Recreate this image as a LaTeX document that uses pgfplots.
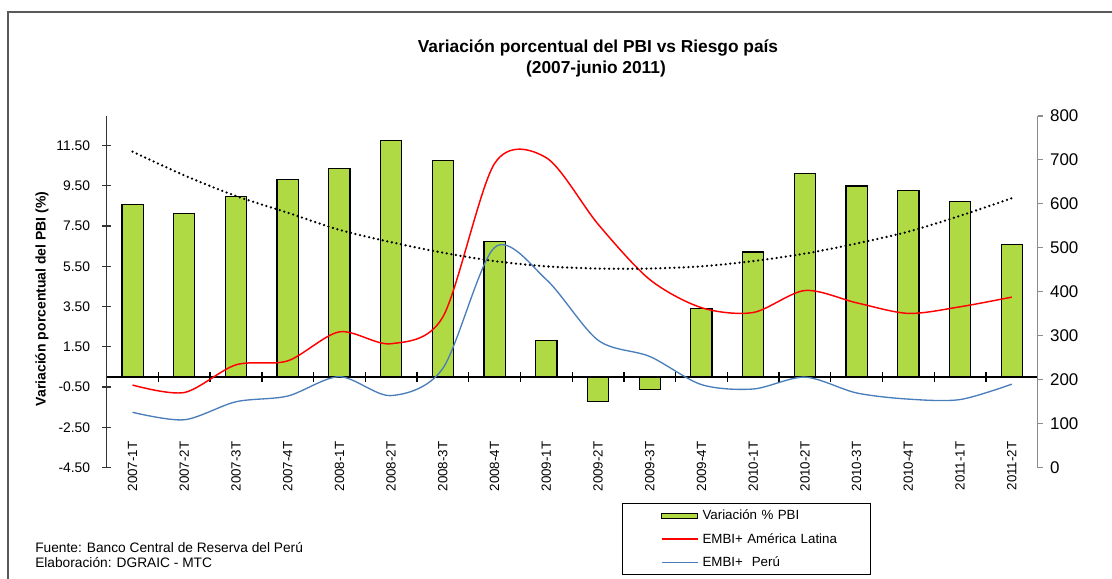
\documentclass[border=0pt]{standalone}
\usepackage{fontspec}
\setmainfont{Liberation Sans}
\usepackage{pgfplots}
\pgfplotsset{compat=1.18}
\definecolor{barg}{HTML}{B0DA44}
\definecolor{embilat}{HTML}{FF0000}
\definecolor{embipe}{HTML}{4A7EBB}
\definecolor{framec}{HTML}{595959}

\begin{document}
\begin{tikzpicture}
\path[use as bounding box] (0,0) rectangle (834pt,433.5pt);
\draw[framec, line width=1.5pt] (6pt,-2pt) -- (6pt,424.5pt) -- (836pt,424.5pt);

% title
\node[anchor=base, font=\bfseries\fontsize{13}{15}\selectfont] at (448.5pt,393.9pt) {Variación porcentual del PBI vs Riesgo país};
\node[anchor=base, font=\bfseries\fontsize{13}{15}\selectfont] at (447pt,378pt) {(2007-junio 2011)};

% left axis: GDP growth bars
\begin{axis}[
  at={(80pt,82.73pt)}, anchor=south west,
  scale only axis, width=698.25pt, height=263.78pt,
  xmin=-0.5, xmax=17.5, ymin=-4.5, ymax=12.96,
  axis x line=middle, axis y line=left,
  axis line style={-},
  x axis line style={line width=1.9pt},
  y axis line style={black!80, line width=1pt},
  axis on top,
  hide obscured x ticks=false,
  tick align=center,
  xtick={0,...,17},
  xticklabels={2007-1T,2007-2T,2007-3T,2007-4T,2008-1T,2008-2T,2008-3T,2008-4T,2009-1T,2009-2T,2009-3T,2009-4T,2010-1T,2010-2T,2010-3T,2010-4T,2011-1T,2011-2T},
  minor xtick={0.5,1.5,...,16.5},
  major x tick style={draw=none},
  minor x tick style={black, line width=1pt},
  minor tick length=7pt,
  major tick length=6.75pt,
  xticklabel style={yshift=-41.5pt, rotate=90, anchor=east, font=\fontsize{10}{12}\selectfont},
  ytick={-4.5,-2.5,...,11.5},
  y tick style={black!80, line width=1pt},
  /pgf/number format/assume math mode=true,
  yticklabel style={/pgf/number format/fixed, /pgf/number format/fixed zerofill, /pgf/number format/precision=2, font=\fontsize{10.4}{12}\selectfont, xshift=-5.5pt},
  ylabel={Variación porcentual del PBI (\%)},
  ylabel style={at={(axis description cs:-0.0695,0.48)}, anchor=center, font=\bfseries\fontsize{10.5}{12}\selectfont},
]
\addplot[ybar, bar width=0.41, fill=barg, draw=black, line width=0.9pt] coordinates {
  (0,8.56) (1,8.11) (2,8.97) (3,9.81) (4,10.34) (5,11.73) (6,10.74) (7,6.73) (8,1.82)
  (9,-1.21) (10,-0.61) (11,3.39) (12,6.21) (13,10.09) (14,9.48) (15,9.25) (16,8.72) (17,6.59)
};
\end{axis}

% right axis: EMBI spreads
\begin{axis}[
  at={(80pt,82.73pt)}, anchor=south west,
  scale only axis, width=698.25pt, height=263.78pt,
  xmin=-0.5, xmax=17.5, ymin=0, ymax=800,
  axis x line=none, axis y line=right,
  axis line style={-},
  y axis line style={black!45, line width=1pt},
  tick align=outside,
  major tick length=4.3pt,
  ytick={0,100,...,800},
  y tick style={black!45, line width=0.8pt},
  /pgf/number format/assume math mode=true,
  yticklabel style={font=\fontsize{12.7}{14}\selectfont, xshift=1.5pt},
  legend image code/.code={\draw[#1] (0pt,0pt) -- (27pt,0pt); \path (-10pt,0pt);},
  legend cell align=left,
  legend style={at={(axis description cs:0.5532,-0.1004)}, anchor=north west,
    draw=black, line width=1pt, inner xsep=19pt, inner ysep=2.8pt, row sep=4.5pt,
    font=\fontsize{10}{12}\selectfont,
    nodes={text width=104pt, inner xsep=3pt}},
]
\addlegendimage{legend image code/.code={\draw[fill=barg, draw=black, line width=0.9pt] (0pt,-2pt) rectangle (27pt,2pt); \path (-10pt,0pt);}}
\addlegendentry{Variación \% PBI}
\addplot[embilat, line width=1.1pt, smooth] coordinates {
  (0,188) (1,171) (2,234) (3,243) (4,309) (5,282) (6,343) (7,692) (8,705)
  (9,554) (10,428) (11,364) (12,353) (13,403) (14,375) (15,351) (16,366) (17,388)
};
\addlegendentry{EMBI+ América Latina}
\addplot[embipe, line width=1pt, smooth] coordinates {
  (0,126) (1,109) (2,150) (3,163) (4,207) (5,164) (6,226) (7,501) (8,428)
  (9,290) (10,253) (11,189) (12,179) (13,206) (14,170) (15,156) (16,155) (17,190)
};
\addlegendentry{EMBI+\ \ Perú}
\addplot[black, line width=1.9pt, line cap=round, dash pattern=on 0pt off 3.5pt, smooth, forget plot] coordinates {
  (0,719) (1,665) (2,618) (3,580) (4,541) (5,513) (6,489) (7,470) (8,458)
  (9,453) (10,453) (11,458) (12,470) (13,487) (14,510) (15,537) (16,573) (17,613)
};
\end{axis}

% source notes
\node[anchor=base west, inner sep=0pt, font=\fontsize{10.3}{12}\selectfont] at (26.25pt,19.5pt) {Fuente: Banco Central de Reserva del Perú};
\node[anchor=base west, inner sep=0pt, font=\fontsize{10.3}{12}\selectfont] at (26.25pt,8.25pt) {Elaboración: DGRAIC - MTC};
\end{tikzpicture}
\end{document}
